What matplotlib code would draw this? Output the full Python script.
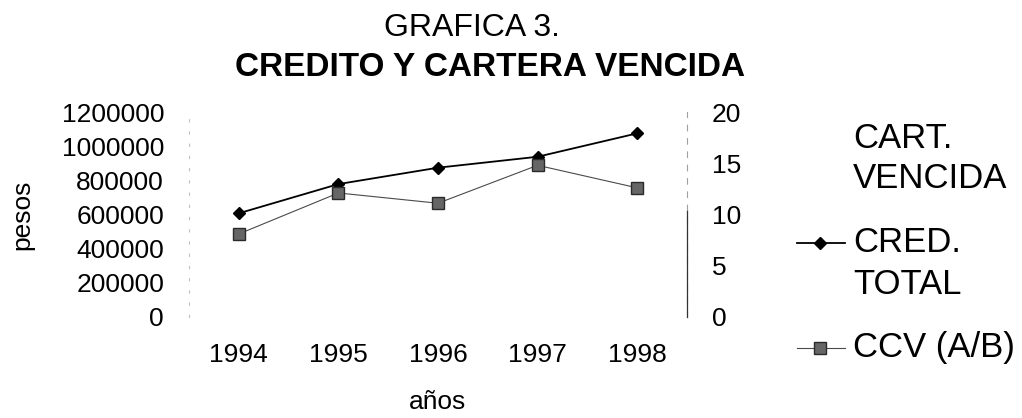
import matplotlib.pyplot as plt
from matplotlib.lines import Line2D

plt.rcParams['font.family'] = ['Liberation Sans', 'DejaVu Sans']

## Data
years = ['1994', '1995', '1996', '1997', '1998']
cred_total = [607000, 778000, 874000, 938000, 1075000]   # pesos, left axis
ccv = [8.1, 12.1, 11.1, 14.8, 12.6]                     # CCV (A/B), right axis
cart_vencida = []                                        # line lost in the scan

left_ticks = [0, 200000, 400000, 600000, 800000, 1000000, 1200000]
right_ticks = [0, 5, 10, 15, 20]

W, H = 1022, 418
fig = plt.figure(figsize=(W / 100, H / 100), dpi=100)
ax = fig.add_axes([189 / W, 1 - 317 / H, 498 / W, 205 / H])
ax2 = ax.twinx()

x = list(range(len(years)))
ax.plot(x[:len(cart_vencida)], cart_vencida, color='#cccccc', lw=0.8, label='CART.\nVENCIDA')
ax.plot(x, cred_total, color='black', lw=1.3, marker='D', ms=6, label='CRED.\nTOTAL')
ax2.plot(x, ccv, color='#4a4a4a', lw=0.8, marker='s', ms=8.5,
         mfc='#666666', mec='#2a2a2a', label='CCV (A/B)')

ax.set_xlim(-0.5, len(years) - 0.5)
ax.set_ylim(0, 1200000)
ax2.set_ylim(0, 20)
ax.set_xticks(x, years)
ax.set_yticks(left_ticks, [str(v) for v in left_ticks])
ax2.set_yticks(right_ticks, [str(v) for v in right_ticks])
ax.tick_params(axis='y', length=0, labelsize=19, pad=18)
ax.tick_params(axis='x', length=0, labelsize=19, pad=19)
ax2.tick_params(axis='y', length=0, labelsize=19, pad=18)

# scanned axes: faint broken left axis, right axis partly lost
for s in ['top', 'bottom']:
    ax.spines[s].set_visible(False)
    ax2.spines[s].set_visible(False)
ax2.spines['left'].set_visible(False)
ax.spines['left'].set_color('#c0c0c0')
ax.spines['left'].set_linestyle((0, (2, 9)))
ax.spines['left'].set_linewidth(0.8)
ax.spines['right'].set_color('#a0a0a0')
ax.spines['right'].set_linestyle((0, (5, 7)))
ax.spines['right'].set_linewidth(0.8)
ax2.spines['right'].set_color('#333333')
ax2.spines['right'].set_linewidth(0.9)
ax2.spines['right'].set_bounds(0, 10.3)

## Titles and axis labels
fig.text(472 / W, 1 - 28 / H, 'GRAFICA 3.', ha='center', va='center', fontsize=23)
fig.text(490 / W, 1 - 68 / H, 'CREDITO Y CARTERA VENCIDA', ha='center', va='center',
         fontsize=24, fontweight='bold')
fig.text(22 / W, 1 - 215 / H, 'pesos', rotation=90, ha='center', va='center', fontsize=19)
fig.text(438 / W, 1 - 402 / H, 'años', ha='center', va='center', fontsize=19)

## Legend (handle sits on the first text line, as in the original)
lines = {l.get_label(): l for l in ax.get_lines() + ax2.get_lines()}
entries = [('CART.\nVENCIDA', 138), ('CRED.\nTOTAL', 243), ('CCV (A/B)', 348)]
for label, ytop in entries:
    src = lines[label]
    yf = 1 - ytop / H
    if src.get_marker() not in (None, 'None', ''):
        fig.add_artist(Line2D([797 / W, 845 / W], [yf, yf], transform=fig.transFigure,
                              color=src.get_color(), lw=src.get_linewidth()))
        fig.add_artist(Line2D([820 / W], [yf], transform=fig.transFigure, ls='none',
                              marker=src.get_marker(), ms=src.get_markersize(),
                              mfc=src.get_markerfacecolor(), mec=src.get_markeredgecolor()))
    for i, part in enumerate(label.split('\n')):
        fig.text(853 / W, 1 - (ytop + 41 * i) / H, part, ha='left', va='center', fontsize=25)

fig.savefig('out.png', dpi=100)
